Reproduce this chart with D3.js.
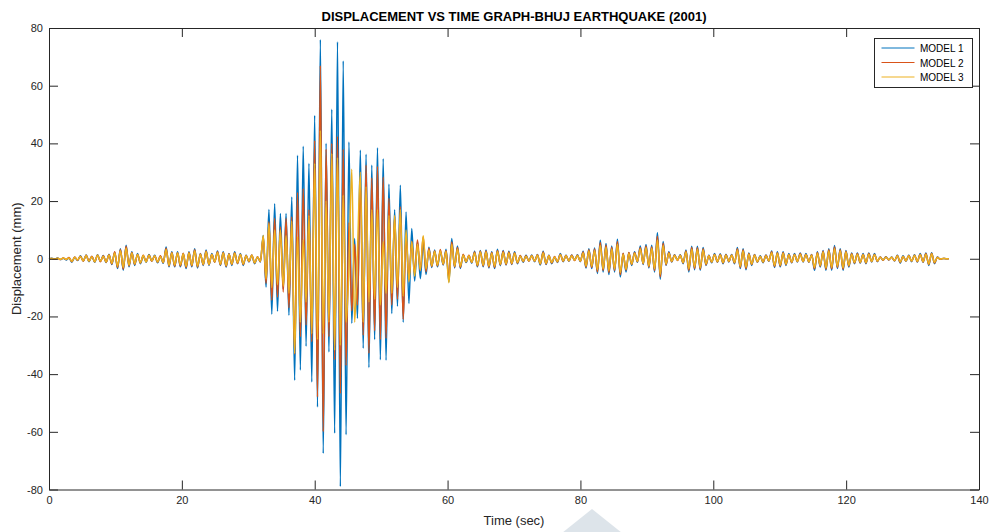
<!DOCTYPE html>
<html>
<head>
<meta charset="utf-8">
<script src="https://cdn.jsdelivr.net/npm/d3@7"></script>
<style>
  html, body { margin: 0; padding: 0; background: #fff; }
  svg text { font-family: "Liberation Sans", Arial, Helvetica, sans-serif; }
</style>
</head>
<body>
<div id="chart"></div>
<script>
// sample spacing of the peak readings (sec)
const sampleStep = 0.43;

const seriesNames = ["MODEL 1", "MODEL 2", "MODEL 3"];
const seriesColors = ["#0072BD", "#D95319", "#EDB120"];

const xTicks = [0, 20, 40, 60, 80, 100, 120, 140];
const yTicks = [-80, -60, -40, -20, 0, 20, 40, 60, 80];

// displacement (mm), one value per sample
const model1 = [
  0, 0.2, -0.2, 0.3, -0.3, 0.2, -0.4, 0.3, -1.2, 0.5,
  -0.6, 1.0, -0.8, 1.3, -1.0, 0.8, -1.2, 1.4, -0.9, 1.1,
  -1.3, 1.6, -2.0, 2.2, -3.4, 3.5, -4.0, 4.7, -2.8, 2.4,
  -2.3, 1.8, -1.7, 1.0, -1.2, 1.5, -0.8, 1.2, -1.4, 0.9,
  -1.6, 4.1, -2.8, 2.4, -2.8, 2.4, -2.8, 1.8, -3.4, 2.4,
  -2.8, 3.5, -3.2, 1.8, -2.3, 3.0, -2.3, 1.8, -1.1, 2.7,
  -2.3, 2.4, -2.9, 1.8, -2.3, 2.4, -1.7, 1.8, -2.3, 1.2,
  -1.1, 1.2, -1.7, 0.6, -1.1, 8.1, -9.8, 17.1, -19.2, 19.1,
  -18.2, 15.7, -10.5, 15.7, -19.6, 21.4, -42.1, 35.9, -38.6, 39.0,
  -30.3, 33.0, -42.7, 49.7, -51.4, 76.0, -67.5, 40.0, -32.3, 51.8,
  -60.5, 75.2, -79.0, 68.6, -61.0, 40.5, -22.4, 7.0, -20.6, 37.6,
  -31.0, 36.2, -37.7, 32.4, -28.0, 38.5, -35.0, 34.7, -35.2, 25.8,
  -19.0, 17.0, -16.5, 25.5, -22.0, 16.2, -15.5, 10.5, -7.7, 6.0,
  -6.9, 5.5, -5.5, 4.0, -3.0, 3.0, -2.8, 2.6, -2.2, 3.3,
  -8.0, 7.0, -3.2, 4.4, -3.4, 1.4, -1.3, 1.0, -1.5, 2.6,
  -2.8, 2.9, -2.8, 3.0, -3.2, 2.4, -3.4, 3.3, -2.4, 2.9,
  -2.2, 2.6, -2.0, 2.4, -1.7, 1.0, -1.2, 1.2, -0.8, 1.3,
  -1.0, 1.5, -2.2, 2.6, -2.0, 1.2, -1.7, 0.6, -1.3, 1.8,
  -1.0, 1.2, -0.9, 1.3, -0.5, 1.4, -1.0, 2.6, -3.2, 3.5,
  -3.4, 3.7, -5.1, 6.4, -4.6, 5.3, -5.5, 4.4, -4.6, 6.8,
  -6.3, 1.8, -4.6, 2.1, -2.3, 2.4, -1.2, 4.4, -2.0, 4.9,
  -3.2, 4.7, -4.6, 9.0, -7.1, 6.0, -2.3, 2.4, -1.1, 1.4,
  -0.5, 1.4, -1.7, 3.0, -4.6, 4.3, -3.8, 4.3, -4.0, 3.9,
  -2.3, 1.2, -1.4, 1.8, -1.2, 1.7, -1.7, 1.6, -1.1, 1.5,
  -1.7, 3.9, -3.4, 3.5, -3.8, 2.0, -2.3, 1.5, -1.2, 1.0,
  -1.4, 1.3, -0.9, 2.7, -3.0, 2.4, -2.8, 2.4, -2.3, 1.8,
  -1.4, 1.8, -1.1, 2.0, -1.1, 1.8, -1.2, 1.5, -4.0, 2.4,
  -2.9, 2.9, -4.0, 3.5, -4.0, 4.6, -3.4, 3.5, -4.0, 2.9,
  -2.9, 2.0, -1.7, 2.0, -1.5, 1.8, -1.7, 2.0, -1.1, 1.8,
  -1.0, 0.6, -0.5, 0.7, -0.4, 0.6, -0.8, 1.2, -1.5, 1.0,
  -0.9, 1.2, -1.0, 1.4, -1.1, 1.8, -1.2, 2.0, -2.3, 2.1,
  -1.7, 0.6, -0.2, 0.1, 0, 0
];

const model2 = [
  0, 0.1, -0.2, 0.2, -0.3, 0.3, -0.3, 0.4, -1.0, 0.6,
  -0.5, 0.9, -0.9, 1.2, -0.8, 0.9, -1.0, 1.2, -1.0, 1.0,
  -1.2, 1.4, -1.8, 2.4, -3.0, 3.2, -3.6, 4.3, -2.5, 2.2,
  -2.0, 1.6, -1.5, 1.2, -1.0, 1.3, -0.9, 1.0, -1.2, 1.0,
  -1.4, 3.6, -2.5, 2.2, -2.6, 2.1, -2.5, 1.9, -3.0, 2.2,
  -2.5, 3.1, -2.9, 1.7, -2.1, 2.7, -2.1, 1.6, -1.2, 2.4,
  -2.1, 2.2, -2.6, 1.7, -2.0, 2.1, -1.6, 1.6, -2.0, 1.1,
  -1.0, 1.3, -1.5, 0.7, -1.0, 7.5, -8.5, 12.8, -14.4, 14.0,
  -13.3, 11.0, -11.5, 14.0, -17.0, 14.5, -33.0, 23.0, -27.0, 24.3,
  -23.0, 17.0, -28.8, 41.0, -47.9, 67.0, -60.0, 38.0, -27.0, 40.0,
  -35.0, 42.5, -46.7, 38.0, -37.0, 12.5, -18.0, 5.0, -16.0, 27.0,
  -26.5, 32.4, -32.8, 28.0, -25.0, 32.0, -28.0, 28.3, -27.6, 21.0,
  -16.0, 14.7, -14.0, 18.0, -21.0, 8.0, -7.0, 6.0, -5.0, 6.5,
  -4.0, 7.5, -4.5, 3.6, -2.7, 2.8, -2.5, 3.2, -2.0, 2.9,
  -6.5, 5.8, -2.9, 3.9, -3.0, 1.6, -1.1, 1.2, -1.3, 2.3,
  -2.5, 2.6, -2.5, 2.7, -2.9, 2.2, -3.0, 2.9, -2.1, 2.6,
  -2.0, 2.3, -1.8, 2.1, -1.5, 1.1, -1.0, 1.0, -0.9, 1.1,
  -0.9, 1.4, -1.9, 2.3, -1.8, 1.1, -1.5, 0.8, -1.1, 1.6,
  -0.9, 1.1, -0.8, 1.2, -0.6, 1.2, -0.9, 2.3, -2.9, 3.1,
  -3.0, 3.4, -4.5, 5.6, -4.1, 4.8, -4.8, 4.0, -4.1, 6.0,
  -5.5, 1.9, -4.0, 2.2, -2.0, 2.2, -1.0, 3.9, -1.8, 4.4,
  -2.9, 4.2, -4.1, 7.8, -6.3, 5.4, -2.1, 2.2, -1.0, 1.3,
  -0.6, 1.2, -1.5, 2.7, -4.1, 3.9, -3.4, 3.8, -3.6, 3.5,
  -2.1, 1.1, -1.2, 1.6, -1.1, 1.5, -1.5, 1.4, -1.0, 1.3,
  -1.5, 3.5, -3.0, 3.1, -3.4, 1.8, -2.0, 1.4, -1.1, 0.9,
  -1.2, 1.2, -0.8, 2.4, -2.7, 2.1, -2.5, 2.2, -2.0, 1.6,
  -1.3, 1.6, -1.0, 1.8, -1.0, 1.6, -1.1, 1.4, -3.5, 2.2,
  -2.6, 2.6, -3.6, 3.1, -3.5, 4.1, -3.0, 3.1, -3.6, 2.6,
  -2.6, 1.8, -1.5, 1.8, -1.4, 1.6, -1.5, 1.8, -1.0, 1.6,
  -0.9, 0.6, -0.5, 0.6, -0.4, 0.5, -0.7, 1.1, -1.3, 0.9,
  -0.8, 1.1, -0.9, 1.2, -1.0, 1.6, -1.1, 1.8, -2.0, 1.9,
  -1.5, 0.5, -0.2, 0.1, 0, 0
];

const model3 = [
  0, 0.1, -0.1, 0.2, -0.2, 0.3, -0.2, 0.3, -0.9, 0.5,
  -0.4, 0.8, -0.7, 1.1, -0.9, 0.7, -1.0, 1.2, -0.8, 0.9,
  -1.1, 1.3, -1.6, 2.0, -2.6, 2.8, -3.0, 3.6, -2.2, 2.0,
  -1.8, 1.5, -1.4, 1.1, -1.1, 1.2, -0.7, 1.0, -1.1, 0.8,
  -1.3, 3.2, -2.3, 2.0, -2.2, 2.0, -2.1, 1.7, -2.6, 2.0,
  -2.2, 2.8, -2.5, 1.6, -1.9, 2.4, -1.9, 1.5, -1.0, 2.2,
  -1.9, 2.0, -2.3, 1.6, -1.8, 1.9, -1.4, 1.5, -1.8, 1.0,
  -0.9, 1.2, -1.4, 0.6, -0.9, 8.1, -7.0, 12.3, -10.0, 10.0,
  -9.0, 10.0, -9.5, 8.0, -12.0, 13.0, -32.8, 7.6, -22.0, 6.6,
  -15.0, 15.0, -26.0, 33.0, -28.0, 44.5, -26.0, 20.0, -22.0, 36.5,
  -31.7, 35.0, -30.0, 22.0, -22.0, -4.0, 31.0, -22.0, 3.0, 30.0,
  -22.0, 25.0, -15.0, 17.0, -14.0, 17.0, -16.0, 6.0, -12.0, 15.0,
  -12.0, 15.0, -10.0, 17.0, -13.0, 10.0, -8.0, 6.0, -6.0, 5.0,
  -4.0, 8.0, -3.5, 3.0, -2.4, 2.5, -2.2, 2.7, -1.8, 2.5,
  -8.3, 5.0, -2.6, 3.4, -2.6, 1.2, -1.0, 1.0, -1.2, 2.0,
  -2.2, 2.3, -2.2, 2.3, -2.5, 1.9, -2.6, 2.5, -1.9, 2.2,
  -1.7, 2.0, -1.6, 1.9, -1.3, 0.9, -0.9, 0.9, -0.7, 1.0,
  -0.8, 1.2, -1.7, 2.0, -1.6, 1.0, -1.3, 0.6, -1.0, 1.4,
  -0.8, 1.0, -0.7, 1.0, -0.5, 1.1, -0.8, 2.0, -2.5, 2.7,
  -2.6, 2.9, -3.8, 4.6, -3.5, 4.0, -4.1, 3.4, -3.6, 5.0,
  -4.8, 1.6, -3.6, 1.8, -1.8, 1.9, -0.9, 3.4, -1.6, 3.8,
  -2.5, 3.6, -3.5, 6.5, -5.4, 4.6, -1.8, 1.9, -0.9, 1.1,
  -0.5, 1.1, -1.3, 2.3, -3.5, 3.3, -2.9, 3.3, -3.1, 3.0,
  -1.8, 1.0, -1.1, 1.4, -1.0, 1.3, -1.3, 1.2, -0.9, 1.2,
  -1.3, 3.0, -2.6, 2.7, -2.9, 1.6, -1.8, 1.2, -1.0, 0.8,
  -1.1, 1.0, -0.7, 2.1, -2.3, 1.9, -2.2, 1.9, -1.8, 1.4,
  -1.1, 1.4, -0.9, 1.6, -0.9, 1.4, -1.0, 1.2, -3.0, 1.9,
  -2.3, 2.3, -3.1, 2.7, -3.0, 3.5, -2.6, 2.7, -3.1, 2.3,
  -2.3, 1.6, -1.3, 1.6, -1.2, 1.4, -1.3, 1.6, -0.9, 1.4,
  -0.8, 0.5, -0.4, 0.5, -0.3, 0.5, -0.6, 1.0, -1.1, 0.8,
  -0.7, 1.0, -0.8, 1.1, -0.9, 1.4, -1.0, 1.6, -1.8, 1.7,
  -1.3, 0.4, -0.1, 0.1, 0, 0
];

const width = 992;
const height = 532;
const margin = { top: 28, right: 13, bottom: 42.5, left: 49 };
const innerW = width - margin.left - margin.right;
const innerH = height - margin.top - margin.bottom;
const axisColor = "#262626";

const svg = d3
  .select("#chart")
  .append("svg")
  .attr("width", width)
  .attr("height", height)
  .attr("viewBox", `0 0 ${width} ${height}`);

// light watermark at the bottom of the figure
svg
  .append("polygon")
  .attr("points", "592,509 562,533 622,533")
  .attr("fill", "#dde4ea");

const g = svg
  .append("g")
  .attr("transform", `translate(${margin.left},${margin.top})`);

const x = d3.scaleLinear().domain([0, 140]).range([0, innerW]);
const y = d3.scaleLinear().domain([-80, 80]).range([innerH, 0]);

// series lines
const line = d3
  .line()
  .x((d, i) => x(i * sampleStep))
  .y((d) => y(d))
  .curve(d3.curveMonotoneX);

[model1, model2, model3].forEach((values, k) => {
  g.append("path")
    .datum(values)
    .attr("fill", "none")
    .attr("stroke", seriesColors[k])
    .attr("stroke-width", 1.5)
    .attr("stroke-linejoin", "round")
    .attr("d", line);
});

// axes, ticks point inwards like the MATLAB box
const fmt = (d) => String(d);

const xAxis = g
  .append("g")
  .attr("transform", `translate(0,${innerH})`)
  .call(d3.axisBottom(x).tickValues(xTicks).tickFormat(fmt).tickSize(-9).tickSizeOuter(0).tickPadding(7));

const xTop = g
  .append("g")
  .call(d3.axisTop(x).tickValues(xTicks).tickFormat("").tickSize(-9).tickSizeOuter(0));

const yAxis = g
  .append("g")
  .call(d3.axisLeft(y).tickValues(yTicks).tickFormat(fmt).tickSize(-9).tickSizeOuter(0).tickPadding(6));

const yRight = g
  .append("g")
  .attr("transform", `translate(${innerW},0)`)
  .call(d3.axisRight(y).tickValues(yTicks).tickFormat("").tickSize(-9).tickSizeOuter(0));

[xAxis, xTop, yAxis, yRight].forEach((a) => {
  a.select(".domain").attr("stroke", axisColor).attr("stroke-width", 1);
  a.selectAll(".tick line").attr("stroke", axisColor).attr("stroke-width", 1);
  a.selectAll(".tick text")
    .attr("fill", axisColor)
    .style("font-size", "11px")
    .style("font-family", '"Liberation Sans", Arial, sans-serif');
});

// title and axis labels
svg
  .append("text")
  .attr("x", margin.left + innerW / 2)
  .attr("y", 21)
  .attr("text-anchor", "middle")
  .style("font-size", "13px")
  .style("font-weight", "bold")
  .attr("fill", "#000")
  .text("DISPLACEMENT VS TIME GRAPH-BHUJ EARTHQUAKE (2001)");

svg
  .append("text")
  .attr("x", margin.left + innerW / 2)
  .attr("y", 525)
  .attr("text-anchor", "middle")
  .style("font-size", "13px")
  .attr("fill", axisColor)
  .text("Time (sec)");

svg
  .append("text")
  .attr("transform", `translate(21,${margin.top + innerH / 2}) rotate(-90)`)
  .attr("text-anchor", "middle")
  .style("font-size", "13px")
  .attr("fill", axisColor)
  .text("Displacement (mm)");

// legend box in the top right corner
const legend = svg.append("g").attr("transform", "translate(874.5,38.5)");

legend
  .append("rect")
  .attr("width", 98)
  .attr("height", 49)
  .attr("fill", "#fff")
  .attr("stroke", axisColor)
  .attr("stroke-width", 1);

seriesNames.forEach((name, k) => {
  const row = legend.append("g").attr("transform", `translate(0,${9.5 + k * 14.5})`);
  row
    .append("line")
    .attr("x1", 7)
    .attr("x2", 40)
    .attr("stroke", seriesColors[k])
    .attr("stroke-width", 1);
  row
    .append("text")
    .attr("x", 45.5)
    .attr("y", 4)
    .style("font-size", "10px")
    .attr("fill", "#000")
    .text(name);
});
</script>
</body>
</html>
